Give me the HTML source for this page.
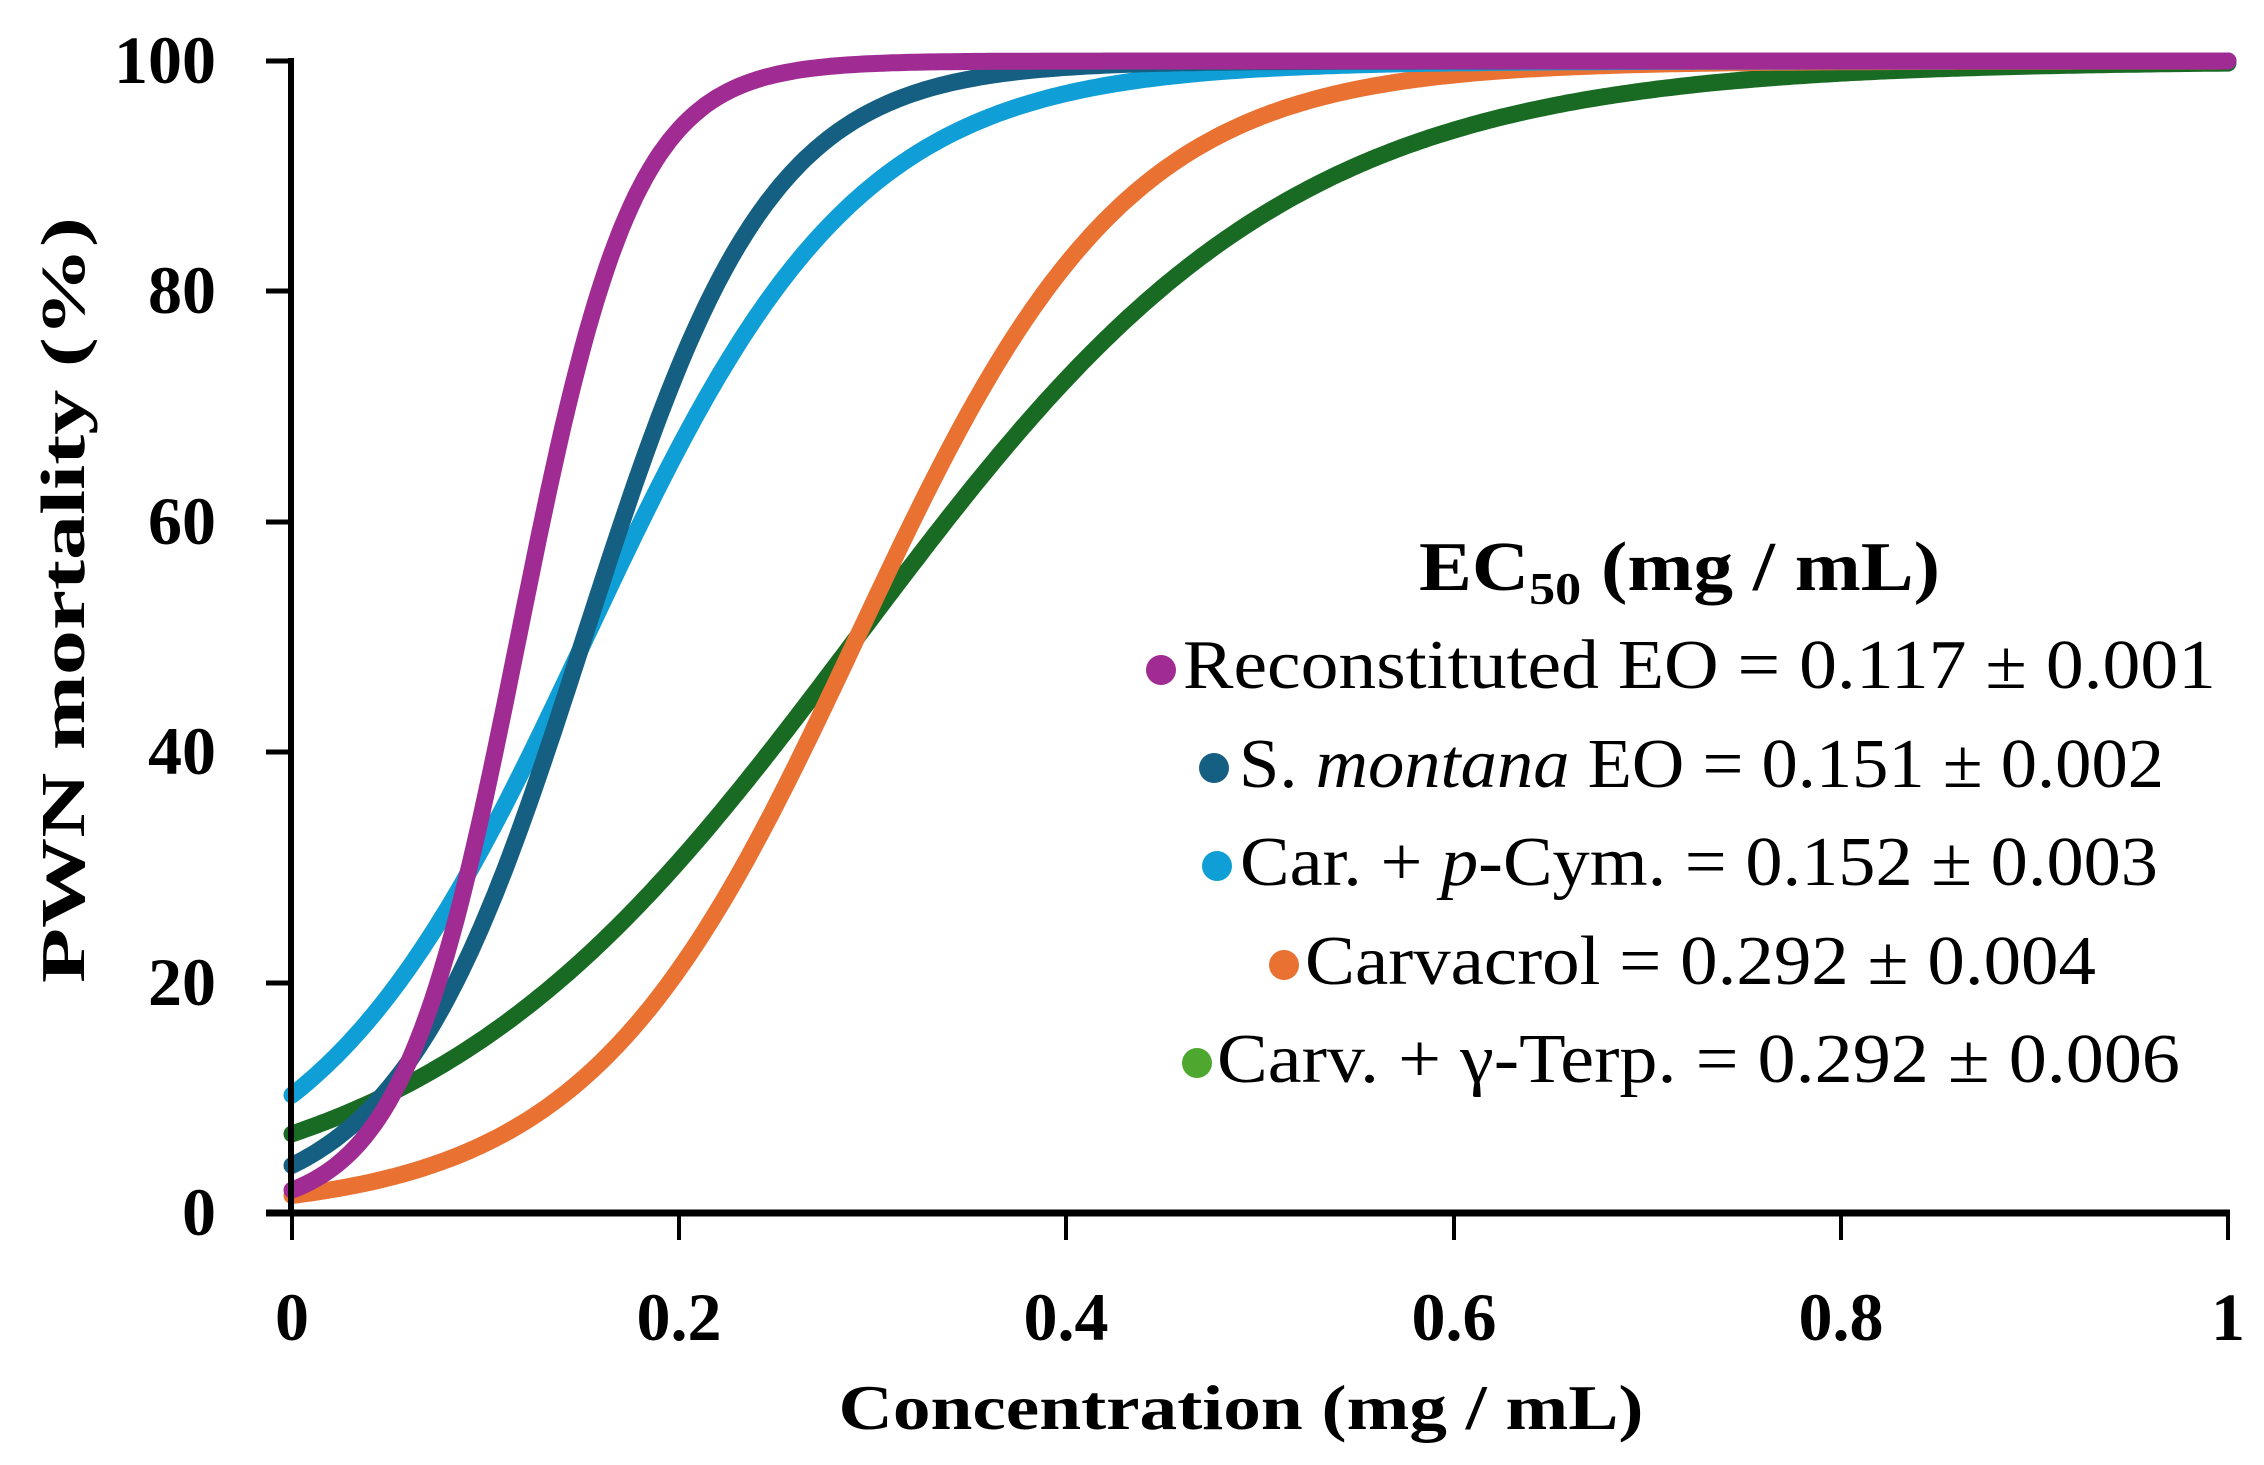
<!DOCTYPE html>
<html><head><meta charset="utf-8"><style>html,body{margin:0;padding:0;background:#fff}svg{display:block}</style></head>
<body>
<svg id="s" width="2264" height="1465" viewBox="0 0 2264 1465" xmlns="http://www.w3.org/2000/svg" font-family="'Liberation Serif', serif">
<g id="curves" fill="none" stroke-width="17" stroke-linecap="round" stroke-linejoin="round"></g>
<g stroke="#000" fill="none">
<line x1="291" y1="58" x2="291" y2="1216" stroke-width="6"/>
<line x1="266" y1="1213" x2="2230" y2="1213" stroke-width="7"/>
<g stroke-width="5">
<line x1="266" y1="61" x2="291" y2="61"/><line x1="266" y1="291" x2="291" y2="291"/>
<line x1="266" y1="522" x2="291" y2="522"/><line x1="266" y1="752" x2="291" y2="752"/>
<line x1="266" y1="983" x2="291" y2="983"/>
</g>
<g stroke-width="4">
<line x1="292" y1="1213" x2="292" y2="1240"/><line x1="679" y1="1213" x2="679" y2="1240"/>
<line x1="1066" y1="1213" x2="1066" y2="1240"/><line x1="1454" y1="1213" x2="1454" y2="1240"/>
<line x1="1841" y1="1213" x2="1841" y2="1240"/><line x1="2228" y1="1213" x2="2228" y2="1240"/>
</g>
</g>
<g font-size="68" font-weight="bold" text-anchor="end">
<text x="216" y="83">100</text><text x="216" y="313">80</text><text x="216" y="544">60</text>
<text x="216" y="774">40</text><text x="216" y="1005">20</text><text x="216" y="1235">0</text>
</g>
<g font-size="68" font-weight="bold" text-anchor="middle">
<text x="292" y="1340">0</text><text x="679" y="1340">0.2</text><text x="1066" y="1340">0.4</text>
<text x="1454" y="1340">0.6</text><text x="1841" y="1340">0.8</text><text x="2228" y="1340">1</text>
<text x="1241" y="1429" font-size="64" textLength="805" lengthAdjust="spacingAndGlyphs">Concentration (mg / mL)</text>
<text transform="translate(84,600) rotate(-90)" font-size="62" textLength="766" lengthAdjust="spacingAndGlyphs">PWN mortality (%)</text>
</g>
<text x="1419" y="590" font-size="70" font-weight="bold" textLength="521" lengthAdjust="spacingAndGlyphs">EC<tspan font-size="46" dy="14">50</tspan><tspan dy="-14"> (mg / mL)</tspan></text>
<g font-size="70">
<circle cx="1161" cy="670" r="15" fill="#A02B93"/>
<text x="1183" y="688" textLength="1033" lengthAdjust="spacingAndGlyphs">Reconstituted EO = 0.117 ± 0.001</text>
<circle cx="1214" cy="768" r="15" fill="#156082"/>
<text x="1239" y="787" textLength="925" lengthAdjust="spacingAndGlyphs">S. <tspan font-style="italic">montana</tspan> EO = 0.151 ± 0.002</text>
<circle cx="1217" cy="866" r="15" fill="#0F9ED5"/>
<text x="1240" y="885" textLength="918" lengthAdjust="spacingAndGlyphs">Car. + <tspan font-style="italic">p</tspan>-Cym. = 0.152 ± 0.003</text>
<circle cx="1284" cy="965" r="15" fill="#E97132"/>
<text x="1305" y="984" textLength="791" lengthAdjust="spacingAndGlyphs">Carvacrol = 0.292 ± 0.004</text>
<circle cx="1197" cy="1063" r="15" fill="#4EA72E"/>
<text x="1217" y="1082" textLength="963" lengthAdjust="spacingAndGlyphs">Carv. + γ-Terp. = 0.292 ± 0.006</text>
</g>
</svg>
<script>
var series=[["#196B24",0.292,0.112],["#E97132",0.292,0.07],["#0F9ED5",0.152,0.07],["#156082",0.151,0.048],["#A02B93",0.117,0.03]];
var g=document.getElementById("curves");
series.forEach(function(s){var d="";for(var i=0;i<=400;i++){var c=i/400;var m=100/(1+Math.exp(-(c-s[1])/s[2]));var x=292+1936*c,y=1213-11.52*m;d+=(i?"L":"M")+x.toFixed(1)+","+y.toFixed(1);}
var p=document.createElementNS("http://www.w3.org/2000/svg","path");p.setAttribute("d",d);p.setAttribute("stroke",s[0]);g.appendChild(p);});
</script>
</body></html>
